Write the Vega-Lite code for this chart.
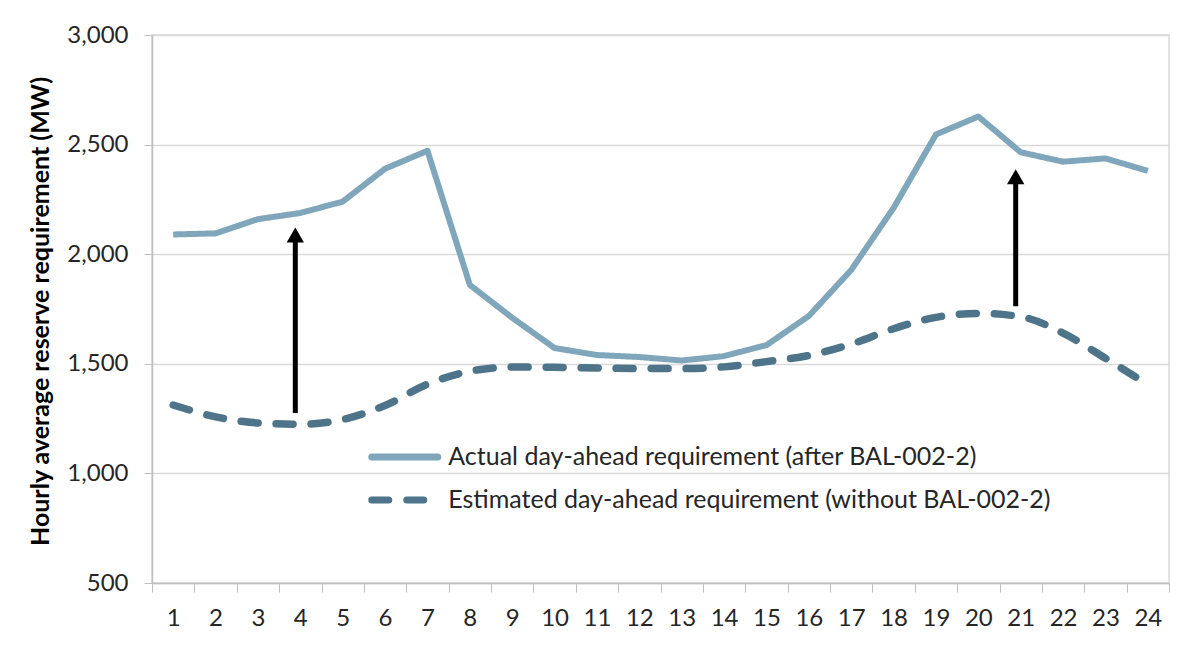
{
  "$schema": "https://vega.github.io/schema/vega-lite/v6.json",
  "autosize": "none",
  "width": 1017,
  "height": 548,
  "padding": {"left": 152, "top": 35, "right": 13, "bottom": 81},
  "background": "white",
  "config": {
    "font": "Lato",
    "view": {"stroke": "#d9d9d9", "strokeWidth": 1.5},
    "axis": {"labelFont": "Lato", "titleFont": "Lato"}
  },
  "datasets": {
    "lines": [
      {"hour": 1, "series": "Actual day-ahead requirement (after BAL-002-2)", "value": 2090},
      {"hour": 2, "series": "Actual day-ahead requirement (after BAL-002-2)", "value": 2095},
      {"hour": 3, "series": "Actual day-ahead requirement (after BAL-002-2)", "value": 2160},
      {"hour": 4, "series": "Actual day-ahead requirement (after BAL-002-2)", "value": 2188},
      {"hour": 5, "series": "Actual day-ahead requirement (after BAL-002-2)", "value": 2240},
      {"hour": 6, "series": "Actual day-ahead requirement (after BAL-002-2)", "value": 2390},
      {"hour": 7, "series": "Actual day-ahead requirement (after BAL-002-2)", "value": 2472},
      {"hour": 8, "series": "Actual day-ahead requirement (after BAL-002-2)", "value": 1860},
      {"hour": 9, "series": "Actual day-ahead requirement (after BAL-002-2)", "value": 1710},
      {"hour": 10, "series": "Actual day-ahead requirement (after BAL-002-2)", "value": 1572},
      {"hour": 11, "series": "Actual day-ahead requirement (after BAL-002-2)", "value": 1540},
      {"hour": 12, "series": "Actual day-ahead requirement (after BAL-002-2)", "value": 1531},
      {"hour": 13, "series": "Actual day-ahead requirement (after BAL-002-2)", "value": 1515},
      {"hour": 14, "series": "Actual day-ahead requirement (after BAL-002-2)", "value": 1535},
      {"hour": 15, "series": "Actual day-ahead requirement (after BAL-002-2)", "value": 1585},
      {"hour": 16, "series": "Actual day-ahead requirement (after BAL-002-2)", "value": 1718},
      {"hour": 17, "series": "Actual day-ahead requirement (after BAL-002-2)", "value": 1928},
      {"hour": 18, "series": "Actual day-ahead requirement (after BAL-002-2)", "value": 2211},
      {"hour": 19, "series": "Actual day-ahead requirement (after BAL-002-2)", "value": 2546},
      {"hour": 20, "series": "Actual day-ahead requirement (after BAL-002-2)", "value": 2628},
      {"hour": 21, "series": "Actual day-ahead requirement (after BAL-002-2)", "value": 2465},
      {"hour": 22, "series": "Actual day-ahead requirement (after BAL-002-2)", "value": 2422},
      {"hour": 23, "series": "Actual day-ahead requirement (after BAL-002-2)", "value": 2437},
      {"hour": 24, "series": "Actual day-ahead requirement (after BAL-002-2)", "value": 2380},
      {"hour": 1, "series": "Estimated day-ahead requirement (without BAL-002-2)", "value": 1312},
      {"hour": 2, "series": "Estimated day-ahead requirement (without BAL-002-2)", "value": 1258},
      {"hour": 3, "series": "Estimated day-ahead requirement (without BAL-002-2)", "value": 1230},
      {"hour": 4, "series": "Estimated day-ahead requirement (without BAL-002-2)", "value": 1224},
      {"hour": 5, "series": "Estimated day-ahead requirement (without BAL-002-2)", "value": 1246},
      {"hour": 6, "series": "Estimated day-ahead requirement (without BAL-002-2)", "value": 1310},
      {"hour": 7, "series": "Estimated day-ahead requirement (without BAL-002-2)", "value": 1407},
      {"hour": 8, "series": "Estimated day-ahead requirement (without BAL-002-2)", "value": 1466},
      {"hour": 9, "series": "Estimated day-ahead requirement (without BAL-002-2)", "value": 1485},
      {"hour": 10, "series": "Estimated day-ahead requirement (without BAL-002-2)", "value": 1484},
      {"hour": 11, "series": "Estimated day-ahead requirement (without BAL-002-2)", "value": 1481},
      {"hour": 12, "series": "Estimated day-ahead requirement (without BAL-002-2)", "value": 1478},
      {"hour": 13, "series": "Estimated day-ahead requirement (without BAL-002-2)", "value": 1478},
      {"hour": 14, "series": "Estimated day-ahead requirement (without BAL-002-2)", "value": 1486},
      {"hour": 15, "series": "Estimated day-ahead requirement (without BAL-002-2)", "value": 1510},
      {"hour": 16, "series": "Estimated day-ahead requirement (without BAL-002-2)", "value": 1538},
      {"hour": 17, "series": "Estimated day-ahead requirement (without BAL-002-2)", "value": 1590},
      {"hour": 18, "series": "Estimated day-ahead requirement (without BAL-002-2)", "value": 1660},
      {"hour": 19, "series": "Estimated day-ahead requirement (without BAL-002-2)", "value": 1712},
      {"hour": 20, "series": "Estimated day-ahead requirement (without BAL-002-2)", "value": 1730},
      {"hour": 21, "series": "Estimated day-ahead requirement (without BAL-002-2)", "value": 1715},
      {"hour": 22, "series": "Estimated day-ahead requirement (without BAL-002-2)", "value": 1640},
      {"hour": 23, "series": "Estimated day-ahead requirement (without BAL-002-2)", "value": 1525},
      {"hour": 24, "series": "Estimated day-ahead requirement (without BAL-002-2)", "value": 1405}
    ],
    "arrows": [
      {"hour": 4, "base": 1275, "head": 2088},
      {"hour": 21, "base": 1763, "head": 2353}
    ]
  },
  "encoding": {
    "x": {
      "field": "hour",
      "type": "ordinal",
      "scale": {"paddingInner": 0, "paddingOuter": 0},
      "axis": {
        "title": null,
        "labelAngle": 0,
        "labelFontSize": 24,
        "labelColor": "#262626",
        "labelPadding": 14,
        "tickBand": "extent",
        "tickSize": 9,
        "tickColor": "#bfbfbf",
        "domainColor": "#bfbfbf",
        "domainWidth": 1.5,
        "grid": false
      }
    }
  },
  "layer": [
    {
      "data": {"name": "lines"},
      "transform": [{"filter": "datum.series === 'Actual day-ahead requirement (after BAL-002-2)'"}],
      "mark": {"type": "line", "strokeWidth": 6, "interpolate": "linear", "strokeJoin": "round"},
      "encoding": {
        "y": {
          "field": "value",
          "type": "quantitative",
          "scale": {"domain": [500, 3000], "nice": false, "zero": false},
          "axis": {
            "title": "Hourly average reserve requirement (MW)",
            "titleFontSize": 25,
            "titleFontWeight": "bold",
            "titleColor": "#000000",
            "titleX": -112,
            "titleY": 276,
            "titleAngle": -90,
            "titleAlign": "center",
            "titleBaseline": "middle",
            "values": [500, 1000, 1500, 2000, 2500, 3000],
            "format": ",.0f",
            "labelFontSize": 24,
            "labelColor": "#262626",
            "labelPadding": 16,
            "tickSize": 8,
            "tickColor": "#bfbfbf",
            "domainColor": "#bfbfbf",
            "domainWidth": 1.5,
            "gridColor": "#d9d9d9",
            "gridWidth": 1.5
          }
        },
        "color": {
          "field": "series",
          "type": "nominal",
          "scale": {
            "domain": ["Actual day-ahead requirement (after BAL-002-2)", "Estimated day-ahead requirement (without BAL-002-2)"],
            "range": ["#7fa6bb", "#4d7489"]
          },
          "legend": {
            "title": null,
            "orient": "none",
            "legendX": 240.25,
            "legendY": 409.5,
            "symbolType": "M-4,0H4",
            "symbolSize": 272,
            "symbolStrokeWidth": 7,
            "labelFontSize": 25,
            "labelColor": "#262626",
            "labelOffset": 31,
            "rowPadding": 14,
            "labelLimit": 800,
            "encode": {"symbols": {"update": {"strokeCap": {"value": "round"}}}}
          }
        },
        "strokeDash": {
          "field": "series",
          "type": "nominal",
          "scale": {
            "domain": ["Actual day-ahead requirement (after BAL-002-2)", "Estimated day-ahead requirement (without BAL-002-2)"],
            "range": [[1, 0], [17, 18]]
          },
          "legend": null
        }
      }
    },
    {
      "data": {"name": "lines"},
      "transform": [{"filter": "datum.series === 'Estimated day-ahead requirement (without BAL-002-2)'"}],
      "mark": {"type": "line", "strokeWidth": 7.5, "interpolate": "monotone", "strokeCap": "round"},
      "encoding": {
        "y": {"field": "value", "type": "quantitative"},
        "color": {"field": "series", "type": "nominal"},
        "strokeDash": {"field": "series", "type": "nominal"}
      }
    },
    {
      "data": {"name": "arrows"},
      "mark": {"type": "rule", "strokeWidth": 5, "color": "black", "xOffset": -5},
      "encoding": {
        "y": {"field": "base", "type": "quantitative"},
        "y2": {"field": "head"}
      }
    },
    {
      "data": {"name": "arrows"},
      "mark": {"type": "point", "shape": "triangle-up", "size": 300, "filled": true, "opacity": 1, "color": "black", "xOffset": -5},
      "encoding": {
        "y": {"field": "head", "type": "quantitative"}
      }
    }
  ]
}
